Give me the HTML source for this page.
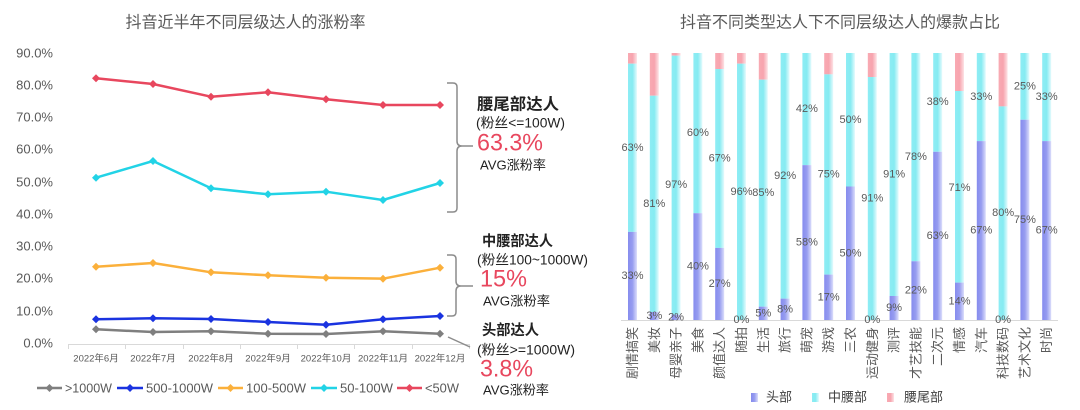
<!DOCTYPE html>
<html>
<head>
<meta charset="utf-8">
<style>
  html,body{margin:0;padding:0;background:#fff;}
  svg{display:block;}
  text{font-family:"Liberation Sans","Noto Sans CJK SC",sans-serif;}
</style>
</head>
<body>
<svg width="1080" height="410" viewBox="0 0 1080 410" xmlns="http://www.w3.org/2000/svg">
  <defs>
    <linearGradient id="gc" x1="0" y1="0" x2="1" y2="0">
      <stop offset="0" stop-color="#8eedf4"/>
      <stop offset="0.5" stop-color="#86ebf2"/>
      <stop offset="1" stop-color="#e6fbfd"/>
    </linearGradient>
    <linearGradient id="gp" x1="0" y1="0" x2="1" y2="0">
      <stop offset="0" stop-color="#f9aab3"/>
      <stop offset="0.5" stop-color="#f7a4ae"/>
      <stop offset="1" stop-color="#fde3e6"/>
    </linearGradient>
    <linearGradient id="gb" x1="0" y1="0" x2="1" y2="0">
      <stop offset="0" stop-color="#868cee"/>
      <stop offset="0.5" stop-color="#979df0"/>
      <stop offset="1" stop-color="#dcdefb"/>
    </linearGradient>
    <path id="dm" d="M0,-4 L4,0 L0,4 L-4,0 Z"/>
  </defs>
  <rect width="1080" height="410" fill="#fff"/>

  <!-- ================= LEFT CHART ================= -->
  <text x="245.5" y="23" font-size="16" fill="#595959" text-anchor="middle" dominant-baseline="central">抖音近半年不同层级达人的涨粉率</text>

  <g font-size="13" fill="#595959" text-anchor="end" dominant-baseline="central">
    <text x="53" y="53">90.0%</text>
    <text x="53" y="85">80.0%</text>
    <text x="53" y="117">70.0%</text>
    <text x="53" y="149">60.0%</text>
    <text x="53" y="182">50.0%</text>
    <text x="53" y="214">40.0%</text>
    <text x="53" y="246">30.0%</text>
    <text x="53" y="278">20.0%</text>
    <text x="53" y="311">10.0%</text>
    <text x="53" y="343">0.0%</text>
  </g>

  <!-- x axis -->
  <g stroke="#d9d9d9" stroke-width="1">
    <line x1="68" y1="344.5" x2="469" y2="344.5"/>
    <line x1="68.5" y1="344" x2="68.5" y2="349"/>
    <line x1="125.5" y1="344" x2="125.5" y2="349"/>
    <line x1="183.5" y1="344" x2="183.5" y2="349"/>
    <line x1="240.5" y1="344" x2="240.5" y2="349"/>
    <line x1="297.5" y1="344" x2="297.5" y2="349"/>
    <line x1="354.5" y1="344" x2="354.5" y2="349"/>
    <line x1="412.5" y1="344" x2="412.5" y2="349"/>
    <line x1="469.5" y1="344" x2="469.5" y2="349"/>
  </g>
  <g font-size="9.5" fill="#595959" text-anchor="middle" dominant-baseline="central">
    <text x="96" y="359">2022年6月</text>
    <text x="153" y="359">2022年7月</text>
    <text x="211" y="359">2022年8月</text>
    <text x="268" y="359">2022年9月</text>
    <text x="326" y="359">2022年10月</text>
    <text x="383" y="359">2022年11月</text>
    <text x="440" y="359">2022年12月</text>
  </g>

  <!-- lines -->
  <g fill="none" stroke-width="2.5" stroke-linejoin="round">
    <polyline stroke="#e8475e" points="96,78.3 153,84 211,96.7 268,92.3 326,99.3 383,105 440,105"/>
    <polyline stroke="#22d3e6" points="96,177.7 153,161 211,188.3 268,194.3 326,191.7 383,200 440,183"/>
    <polyline stroke="#fbb03b" points="96,266.7 153,263 211,272.3 268,275.3 326,277.7 383,278.7 440,267.7"/>
    <polyline stroke="#1a33e0" points="96,319.3 153,318.3 211,319 268,322 326,324.7 383,319.3 440,316"/>
    <polyline stroke="#7f7f7f" points="96,329.3 153,332 211,331.3 268,333.7 326,334 383,331.3 440,333.7"/>
  </g>
  <g fill="#e8475e">
    <use href="#dm" x="96" y="78.3"/><use href="#dm" x="153" y="84"/><use href="#dm" x="211" y="96.7"/><use href="#dm" x="268" y="92.3"/><use href="#dm" x="326" y="99.3"/><use href="#dm" x="383" y="105"/><use href="#dm" x="440" y="105"/>
  </g>
  <g fill="#22d3e6">
    <use href="#dm" x="96" y="177.7"/><use href="#dm" x="153" y="161"/><use href="#dm" x="211" y="188.3"/><use href="#dm" x="268" y="194.3"/><use href="#dm" x="326" y="191.7"/><use href="#dm" x="383" y="200"/><use href="#dm" x="440" y="183"/>
  </g>
  <g fill="#fbb03b">
    <use href="#dm" x="96" y="266.7"/><use href="#dm" x="153" y="263"/><use href="#dm" x="211" y="272.3"/><use href="#dm" x="268" y="275.3"/><use href="#dm" x="326" y="277.7"/><use href="#dm" x="383" y="278.7"/><use href="#dm" x="440" y="267.7"/>
  </g>
  <g fill="#1a33e0">
    <use href="#dm" x="96" y="319.3"/><use href="#dm" x="153" y="318.3"/><use href="#dm" x="211" y="319"/><use href="#dm" x="268" y="322"/><use href="#dm" x="326" y="324.7"/><use href="#dm" x="383" y="319.3"/><use href="#dm" x="440" y="316"/>
  </g>
  <g fill="#7f7f7f">
    <use href="#dm" x="96" y="329.3"/><use href="#dm" x="153" y="332"/><use href="#dm" x="211" y="331.3"/><use href="#dm" x="268" y="333.7"/><use href="#dm" x="326" y="334"/><use href="#dm" x="383" y="331.3"/><use href="#dm" x="440" y="333.7"/>
  </g>

  <!-- legend left -->
  <g stroke-width="2.5">
    <line x1="37" y1="388" x2="62" y2="388" stroke="#7f7f7f"/>
    <line x1="117" y1="388" x2="143" y2="388" stroke="#1a33e0"/>
    <line x1="218" y1="388" x2="243" y2="388" stroke="#fbb03b"/>
    <line x1="311" y1="388" x2="337" y2="388" stroke="#22d3e6"/>
    <line x1="397" y1="388" x2="422" y2="388" stroke="#e8475e"/>
  </g>
  <use href="#dm" x="49.5" y="388" fill="#7f7f7f"/>
  <use href="#dm" x="130" y="388" fill="#1a33e0"/>
  <use href="#dm" x="230.5" y="388" fill="#fbb03b"/>
  <use href="#dm" x="324" y="388" fill="#22d3e6"/>
  <use href="#dm" x="409.5" y="388" fill="#e8475e"/>
  <g font-size="13" fill="#595959" dominant-baseline="central">
    <text x="65" y="388" textLength="47" lengthAdjust="spacingAndGlyphs">&gt;1000W</text>
    <text x="146" y="388" textLength="67" lengthAdjust="spacingAndGlyphs">500-1000W</text>
    <text x="246" y="388" textLength="60" lengthAdjust="spacingAndGlyphs">100-500W</text>
    <text x="340" y="388" textLength="53" lengthAdjust="spacingAndGlyphs">50-100W</text>
    <text x="425" y="388" textLength="34" lengthAdjust="spacingAndGlyphs">&lt;50W</text>
  </g>

  <!-- braces -->
  <g fill="none" stroke="#8c8c8c" stroke-width="1.5">
    <path d="M447,83 L453,83 Q457,83 457,87 L457,141 Q457,146 462,146 L473,146 M462,146 Q457,146 457,151 L457,208 Q457,212 453,212 L447,212"/>
    <path d="M447,255 L452,255 Q456,255 456,259 L456,281 Q456,286 461,286 L473,286 M461,286 Q456,286 456,291 L456,312 Q456,316 452,316 L447,316"/>
    <path d="M448,337 L470,347"/>
  </g>

  <!-- annotations -->
  <text x="477" y="105" font-size="16" font-weight="bold" fill="#222" dominant-baseline="central" textLength="82" lengthAdjust="spacingAndGlyphs">腰尾部达人</text>
  <text x="476" y="123" font-size="13.5" fill="#222" dominant-baseline="central" textLength="89" lengthAdjust="spacingAndGlyphs">(粉丝&lt;=100W)</text>
  <text x="477" y="143" font-size="24" fill="#e8475e" dominant-baseline="central" textLength="66" lengthAdjust="spacingAndGlyphs">63.3%</text>
  <text x="480" y="165" font-size="13" fill="#222" dominant-baseline="central" textLength="66" lengthAdjust="spacingAndGlyphs">AVG涨粉率</text>

  <text x="482" y="242" font-size="14.5" font-weight="bold" fill="#222" dominant-baseline="central" textLength="71" lengthAdjust="spacingAndGlyphs">中腰部达人</text>
  <text x="477" y="260" font-size="13.5" fill="#222" dominant-baseline="central" textLength="111" lengthAdjust="spacingAndGlyphs">(粉丝100~1000W)</text>
  <text x="480" y="279" font-size="24" fill="#e8475e" dominant-baseline="central" textLength="47" lengthAdjust="spacingAndGlyphs">15%</text>
  <text x="483" y="301" font-size="13" fill="#222" dominant-baseline="central" textLength="67" lengthAdjust="spacingAndGlyphs">AVG涨粉率</text>

  <text x="482" y="331" font-size="14.5" font-weight="bold" fill="#222" dominant-baseline="central" textLength="57" lengthAdjust="spacingAndGlyphs">头部达人</text>
  <text x="477" y="350" font-size="13.5" fill="#222" dominant-baseline="central" textLength="98" lengthAdjust="spacingAndGlyphs">(粉丝&gt;=1000W)</text>
  <text x="480" y="369" font-size="24" fill="#e8475e" dominant-baseline="central" textLength="53" lengthAdjust="spacingAndGlyphs">3.8%</text>
  <text x="483" y="390" font-size="13" fill="#222" dominant-baseline="central" textLength="66" lengthAdjust="spacingAndGlyphs">AVG涨粉率</text>

  <!-- ================= RIGHT CHART ================= -->
  <text x="840" y="23" font-size="16" fill="#595959" text-anchor="middle" dominant-baseline="central">抖音不同类型达人下不同层级达人的爆款占比</text>

  <!-- bars -->
  <g>
    <rect x="628" y="53" width="9" height="10.68" fill="url(#gp)"/>
    <rect x="628" y="63.68" width="9" height="168.21" fill="url(#gc)"/>
    <rect x="628" y="231.89" width="9" height="88.11" fill="url(#gb)"/>
    <rect x="649.8" y="53" width="9" height="42.72" fill="url(#gp)"/>
    <rect x="649.8" y="95.72" width="9" height="216.28" fill="url(#gc)"/>
    <rect x="649.8" y="312" width="9" height="8" fill="url(#gb)"/>
    <rect x="671.6" y="53" width="9" height="2.67" fill="url(#gp)"/>
    <rect x="671.6" y="55.67" width="9" height="258.99" fill="url(#gc)"/>
    <rect x="671.6" y="314.66" width="9" height="5.34" fill="url(#gb)"/>
    <rect x="693.4" y="53" width="9" height="160.2" fill="url(#gc)"/>
    <rect x="693.4" y="213.2" width="9" height="106.8" fill="url(#gb)"/>
    <rect x="715.2" y="53" width="9" height="16.02" fill="url(#gp)"/>
    <rect x="715.2" y="69.02" width="9" height="178.89" fill="url(#gc)"/>
    <rect x="715.2" y="247.91" width="9" height="72.09" fill="url(#gb)"/>
    <rect x="737" y="53" width="9" height="10.68" fill="url(#gp)"/>
    <rect x="737" y="63.68" width="9" height="256.32" fill="url(#gc)"/>
    <rect x="758.8" y="53" width="9" height="26.7" fill="url(#gp)"/>
    <rect x="758.8" y="79.7" width="9" height="226.95" fill="url(#gc)"/>
    <rect x="758.8" y="306.65" width="9" height="13.35" fill="url(#gb)"/>
    <rect x="780.6" y="53" width="9" height="245.64" fill="url(#gc)"/>
    <rect x="780.6" y="298.64" width="9" height="21.36" fill="url(#gb)"/>
    <rect x="802.4" y="53" width="9" height="112.14" fill="url(#gc)"/>
    <rect x="802.4" y="165.14" width="9" height="154.86" fill="url(#gb)"/>
    <rect x="824.2" y="53" width="9" height="21.36" fill="url(#gp)"/>
    <rect x="824.2" y="74.36" width="9" height="200.25" fill="url(#gc)"/>
    <rect x="824.2" y="274.61" width="9" height="45.39" fill="url(#gb)"/>
    <rect x="846" y="53" width="9" height="133.5" fill="url(#gc)"/>
    <rect x="846" y="186.5" width="9" height="133.5" fill="url(#gb)"/>
    <rect x="867.8" y="53" width="9" height="24.03" fill="url(#gp)"/>
    <rect x="867.8" y="77.03" width="9" height="242.97" fill="url(#gc)"/>
    <rect x="889.6" y="53" width="9" height="242.97" fill="url(#gc)"/>
    <rect x="889.6" y="295.97" width="9" height="24.03" fill="url(#gb)"/>
    <rect x="911.4" y="53" width="9" height="208.26" fill="url(#gc)"/>
    <rect x="911.4" y="261.26" width="9" height="58.74" fill="url(#gb)"/>
    <rect x="933.2" y="53" width="9" height="98.79" fill="url(#gc)"/>
    <rect x="933.2" y="151.79" width="9" height="168.21" fill="url(#gb)"/>
    <rect x="955" y="53" width="9" height="38" fill="url(#gp)"/>
    <rect x="955" y="91" width="9" height="191.62" fill="url(#gc)"/>
    <rect x="955" y="282.62" width="9" height="37.38" fill="url(#gb)"/>
    <rect x="976.8" y="53" width="9" height="88.11" fill="url(#gc)"/>
    <rect x="976.8" y="141.11" width="9" height="178.89" fill="url(#gb)"/>
    <rect x="998.6" y="53" width="9" height="53.4" fill="url(#gp)"/>
    <rect x="998.6" y="106.4" width="9" height="213.6" fill="url(#gc)"/>
    <rect x="1020.4" y="53" width="9" height="66.75" fill="url(#gc)"/>
    <rect x="1020.4" y="119.75" width="9" height="200.25" fill="url(#gb)"/>
    <rect x="1042.2" y="53" width="9" height="88.11" fill="url(#gc)"/>
    <rect x="1042.2" y="141.11" width="9" height="178.89" fill="url(#gb)"/>
  </g>

  <line x1="621" y1="320.5" x2="1058" y2="320.5" stroke="#d9d9d9" stroke-width="1"/>

  <g font-size="11" fill="#595959" text-anchor="middle" dominant-baseline="central">
    <text x="632.5" y="147.8">63%</text><text x="632.5" y="275.9">33%</text>
    <text x="654.3" y="203.9">81%</text><text x="654.3" y="316">3%</text>
    <text x="676.1" y="185.2">97%</text><text x="676.1" y="317.3">2%</text>
    <text x="697.9" y="133.1">60%</text><text x="697.9" y="266.6">40%</text>
    <text x="719.7" y="158.5">67%</text><text x="719.7" y="284">27%</text>
    <text x="741.5" y="191.8">96%</text><text x="741.5" y="320">0%</text>
    <text x="763.3" y="193.2">85%</text><text x="763.3" y="313.3">5%</text>
    <text x="785.1" y="175.8">92%</text><text x="785.1" y="309.3">8%</text>
    <text x="806.9" y="109.1">42%</text><text x="806.9" y="242.6">58%</text>
    <text x="828.7" y="174.5">75%</text><text x="828.7" y="297.3">17%</text>
    <text x="850.5" y="119.75">50%</text><text x="850.5" y="253.25">50%</text>
    <text x="872.3" y="198.5">91%</text><text x="872.3" y="320">0%</text>
    <text x="894.1" y="174.5">91%</text><text x="894.1" y="308">9%</text>
    <text x="915.9" y="157.1">78%</text><text x="915.9" y="290.6">22%</text>
    <text x="937.7" y="102">38%</text><text x="937.7" y="236">63%</text>
    <text x="959.5" y="187.8">71%</text><text x="959.5" y="301.3">14%</text>
    <text x="981.3" y="97.1">33%</text><text x="981.3" y="230.6">67%</text>
    <text x="1003.1" y="213.2">80%</text><text x="1003.1" y="320">0%</text>
    <text x="1024.9" y="86.4">25%</text><text x="1024.9" y="219.9">75%</text>
    <text x="1046.7" y="97.1">33%</text><text x="1046.7" y="230.6">67%</text>
  </g>

  <g font-size="13" fill="#595959" text-anchor="end" dominant-baseline="central">
    <text transform="translate(632.5,327) rotate(-90)">剧情搞笑</text>
    <text transform="translate(654.3,327) rotate(-90)">美妆</text>
    <text transform="translate(676.1,327) rotate(-90)">母婴亲子</text>
    <text transform="translate(697.9,327) rotate(-90)">美食</text>
    <text transform="translate(719.7,327) rotate(-90)">颜值达人</text>
    <text transform="translate(741.5,327) rotate(-90)">随拍</text>
    <text transform="translate(763.3,327) rotate(-90)">生活</text>
    <text transform="translate(785.1,327) rotate(-90)">旅行</text>
    <text transform="translate(806.9,327) rotate(-90)">萌宠</text>
    <text transform="translate(828.7,327) rotate(-90)">游戏</text>
    <text transform="translate(850.5,327) rotate(-90)">三农</text>
    <text transform="translate(872.3,327) rotate(-90)">运动健身</text>
    <text transform="translate(894.1,327) rotate(-90)">测评</text>
    <text transform="translate(915.9,327) rotate(-90)">才艺技能</text>
    <text transform="translate(937.7,327) rotate(-90)">二次元</text>
    <text transform="translate(959.5,327) rotate(-90)">情感</text>
    <text transform="translate(981.3,327) rotate(-90)">汽车</text>
    <text transform="translate(1003.1,327) rotate(-90)">科技数码</text>
    <text transform="translate(1024.9,327) rotate(-90)">艺术文化</text>
    <text transform="translate(1046.7,327) rotate(-90)">时尚</text>
  </g>

  <rect x="751" y="393" width="7" height="9" fill="url(#gb)"/>
  <rect x="812" y="393" width="7" height="9" fill="url(#gc)"/>
  <rect x="887" y="393" width="7" height="9" fill="url(#gp)"/>
  <g font-size="13" fill="#404040" dominant-baseline="central">
    <text x="766" y="397">头部</text>
    <text x="828" y="397">中腰部</text>
    <text x="904" y="397">腰尾部</text>
  </g>
</svg>
</body>
</html>
